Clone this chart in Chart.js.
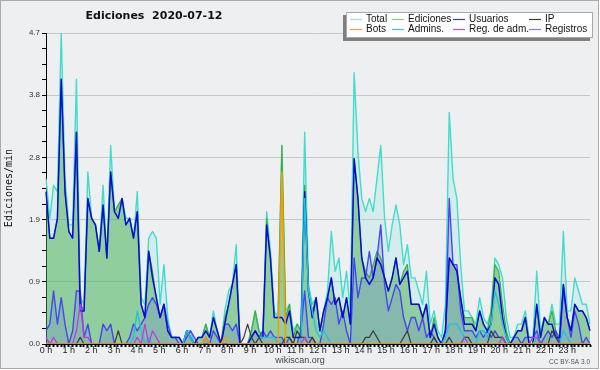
<!DOCTYPE html>
<html>
<head>
<meta charset="utf-8">
<title>Ediciones 2020-07-12</title>
<script src="https://cdn.jsdelivr.net/npm/chart.js"></script>
<style>
  html, body { margin: 0; padding: 0; background: #fff; }
  #wrap { width: 600px; height: 370px; }
</style>
</head>
<body>
<div id="wrap"><canvas id="chart" width="600" height="370"></canvas></div>
<script>
// Data (edits per minute, 10 minute slots, 2020-07-12)

const hourLabels = ["0 h", "1 h", "2 h", "3 h", "4 h", "5 h", "6 h", "7 h", "8 h", "9 h", "10 h", "11 h",
    "12 h", "13 h", "14 h", "15 h", "16 h", "17 h", "18 h", "19 h", "20 h", "21 h", "22 h", "23 h"];
const yTickLabels = ["0.0", "0.9", "1.9", "2.8", "3.8", "4.7"];

const total = [
    2.5, 1.9, 2.4, 2.3, 4.7, 2.5, 1.8, 1.8, 4.0, 0.7, 0.6, 2.6,
    1.9, 1.8, 1.4, 2.4, 1.3, 3.0, 2.0, 2.1, 2.2, 1.9, 1.9, 1.6,
    2.3, 0.7, 0.6, 1.6, 1.7, 1.6, 0.6, 1.2, 0.4, 0.1, 0.1, 0.1,
    0, 0.2, 0.2, 0, 0.1, 0.1, 0.3, 0.1, 0.5, 0.2, 0, 0.5,
    0.8, 0.9, 1.5, 0, 0, 0, 0.2, 0.5, 0.2, 0.1, 2.0, 1.4,
    0.5, 0.4, 3.0, 0.5, 0.6, 0.2, 0.3, 0.2, 3.2, 0.9, 0.6, 0.7,
    0.2, 0.5, 0.8, 1.7, 1.1, 1.3, 0.7, 1.1, 0.5, 4.1, 2.9, 2.2,
    2.0, 2.2, 2.0, 2.5, 3.0, 1.9, 1.4, 1.8, 2.1, 1.8, 1.2, 1.5,
    1.0, 1.0, 0.8, 0.6, 1.1, 0.3, 0.5, 0.2, 0.1, 0.6, 3.5, 2.5,
    2.2, 1.2, 0.5, 0.5, 0.4, 0.3, 0.7, 0.4, 0.3, 0.5, 1.3, 1.2,
    1.0, 0.4, 0.1, 0.1, 0.3, 0.3, 0.5, 0.1, 0.1, 1.1, 0.2, 0.4,
    0.3, 0.6, 0.3, 0.3, 1.7, 0.5, 0.5, 1.0, 0.8, 0.6, 0.6, 0.3
];
const ediciones = [
    2.3, 1.6, 1.6, 1.9, 4.0, 2.3, 1.7, 1.6, 3.2, 0.6, 0.5, 2.2,
    1.9, 1.8, 1.4, 2.1, 1.3, 2.6, 2.0, 2.1, 2.2, 1.8, 1.9, 1.6,
    2.0, 0.6, 0.4, 1.4, 1.1, 0.7, 0.4, 0.6, 0.2, 0.1, 0.1, 0.1,
    0, 0.2, 0.1, 0, 0.1, 0.1, 0.3, 0.1, 0.4, 0.2, 0, 0.4,
    0.6, 0.9, 1.2, 0, 0, 0, 0.2, 0.5, 0.2, 0.1, 1.9, 1.3,
    0.4, 0.4, 3.0, 0.4, 0.6, 0.1, 0.3, 0.2, 2.4, 0.8, 0.5, 0.7,
    0.2, 0.5, 0.7, 1.0, 0.6, 0.7, 0.4, 0.7, 0.3, 2.8, 2.2, 1.3,
    1.1, 1.0, 1.2, 1.4, 1.3, 1.0, 0.8, 1.0, 1.3, 0.9, 1.1, 1.2,
    0.6, 0.6, 0.6, 0.4, 0.6, 0.1, 0.4, 0.1, 0, 0.2, 1.3, 1.2,
    1.1, 0.7, 0.4, 0.4, 0.4, 0.2, 0.5, 0.3, 0.2, 0.5, 1.2, 1.1,
    0.6, 0.2, 0, 0.1, 0.2, 0.2, 0.4, 0, 0, 0.6, 0.1, 0.4,
    0.3, 0.5, 0.2, 0.1, 0.9, 0.4, 0.2, 0.6, 0.5, 0.5, 0.4, 0.2
];
const usuarios = [
    2.3, 1.6, 1.6, 1.9, 4.0, 2.3, 1.7, 1.6, 3.2, 0.5, 0.5, 2.2,
    1.9, 1.8, 1.4, 2.1, 1.3, 2.6, 2.0, 1.9, 2.2, 1.8, 1.9, 1.6,
    2.0, 0.6, 0.4, 1.4, 1.0, 0.7, 0.4, 0.6, 0.2, 0.1, 0.1, 0.1,
    0, 0.2, 0.1, 0, 0.1, 0.1, 0.2, 0.1, 0.4, 0.2, 0, 0.3,
    0.6, 0.9, 1.2, 0, 0, 0, 0.1, 0.2, 0.1, 0.1, 1.8, 1.3,
    0.4, 0.4, 0.4, 0.3, 0.5, 0.1, 0.1, 0.1, 2.3, 0.8, 0.4, 0.7,
    0.2, 0.5, 0.7, 1.0, 0.6, 0.7, 0.4, 0.7, 0.3, 2.8, 2.2, 1.3,
    1.0, 0.9, 1.0, 1.3, 1.2, 1.0, 0.8, 1.0, 1.3, 0.9, 1.0, 1.1,
    0.6, 0.6, 0.6, 0.4, 0.6, 0.1, 0.3, 0.1, 0, 0.2, 1.3, 1.2,
    1.1, 0.7, 0.3, 0.3, 0.3, 0.2, 0.5, 0.3, 0.2, 0.3, 1.0, 0.9,
    0.4, 0.1, 0, 0.1, 0.2, 0.2, 0.4, 0, 0, 0.6, 0.1, 0.4,
    0.3, 0.3, 0.1, 0.1, 0.9, 0.4, 0.2, 0.6, 0.5, 0.5, 0.4, 0.2
];
const ip = [
    0, 0, 0, 0, 0, 0, 0, 0, 0, 0.1, 0, 0,
    0, 0, 0, 0, 0, 0, 0, 0.2, 0, 0, 0, 0,
    0, 0, 0, 0, 0, 0, 0, 0, 0, 0, 0, 0,
    0, 0, 0, 0, 0, 0, 0, 0, 0, 0, 0, 0,
    0, 0, 0, 0, 0.1, 0.3, 0.1, 0, 0.1, 0, 0, 0,
    0, 0, 0, 0.1, 0.1, 0, 0.2, 0.1, 0.1, 0, 0.1, 0,
    0, 0, 0, 0, 0, 0, 0, 0, 0, 0, 0, 0,
    0.1, 0.1, 0.2, 0.1, 0, 0, 0, 0, 0, 0, 0.1, 0.2,
    0, 0, 0, 0, 0, 0, 0.1, 0, 0, 0, 0.1, 0,
    0, 0, 0.1, 0.1, 0, 0, 0, 0, 0, 0.2, 0.1, 0.1,
    0.1, 0, 0, 0, 0, 0, 0, 0, 0, 0, 0, 0,
    0, 0.2, 0.1, 0, 0, 0, 0, 0, 0, 0, 0, 0
];
const bots = [
    0, 0, 0, 0, 0, 0, 0, 0, 0, 0, 0, 0,
    0, 0, 0, 0, 0, 0, 0, 0, 0, 0, 0, 0,
    0, 0, 0, 0, 0, 0, 0, 0, 0, 0, 0, 0,
    0, 0, 0, 0, 0, 0, 0.1, 0, 0, 0, 0, 0.1,
    0, 0, 0, 0, 0, 0, 0, 0, 0, 0, 0, 0,
    0, 0, 2.6, 0, 0, 0, 0, 0, 0, 0, 0, 0,
    0, 0, 0, 0, 0, 0, 0, 0, 0, 0, 0, 0,
    0, 0, 0, 0, 0, 0, 0, 0, 0, 0, 0, 0,
    0, 0, 0, 0, 0, 0, 0, 0, 0, 0, 0, 0,
    0, 0, 0, 0, 0, 0, 0, 0, 0, 0, 0, 0,
    0, 0, 0, 0, 0, 0, 0, 0, 0, 0, 0, 0,
    0, 0, 0, 0, 0, 0, 0, 0, 0, 0, 0, 0
];
const admins = [
    0, 0, 0, 0, 0, 0, 0, 0, 0, 0, 0, 0,
    0, 0, 0, 0, 0, 0, 0, 0, 0, 0, 0, 0.1,
    0.5, 0.2, 0, 0.1, 0, 0, 0, 0, 0, 0, 0, 0,
    0, 0.2, 0.1, 0, 0, 0, 0, 0, 0, 0, 0, 0,
    0, 0, 0, 0, 0, 0, 0, 0, 0.1, 0.1, 0.1, 0.1,
    0.1, 0, 0, 0, 0, 0, 0, 0, 2.2, 0.8, 0.5, 0.2,
    0.1, 0.2, 0.1, 0, 0, 0, 0, 0, 0, 0, 0, 0,
    0, 0, 0, 0, 0, 0, 0, 0, 0, 0, 0, 0,
    0, 0, 0, 0, 0, 0, 0, 0, 0, 0.1, 0.3, 0.3,
    0.3, 0.2, 0.1, 0.1, 0, 0, 0.2, 0.2, 0.1, 0.3, 0.8, 0.6,
    0.3, 0.1, 0, 0, 0, 0, 0, 0, 0, 0.1, 0, 0,
    0, 0, 0, 0, 0.2, 0.1, 0, 0, 0, 0, 0, 0
];
const regAdm = [
    0.1, 0, 0.1, 0, 0, 0, 0, 0, 0.2, 0.6, 0.1, 0.1,
    0, 0, 0, 0, 0, 0, 0, 0, 0, 0, 0, 0,
    0.1, 0, 0.3, 0, 0.2, 0.1, 0, 0, 0, 0, 0, 0,
    0, 0, 0, 0, 0, 0, 0, 0, 0, 0, 0, 0,
    0, 0, 0, 0, 0, 0, 0, 0, 0, 0, 0, 0,
    0, 0, 0, 0, 0, 0, 0, 0, 0.1, 0, 0, 0,
    0, 0, 0, 0, 0, 0, 0, 0, 0, 0, 0, 0,
    0, 0, 0, 0, 0, 0, 0, 0, 0, 0, 0, 0,
    0, 0, 0, 0, 0, 0, 0, 0, 0, 0, 0, 0,
    0, 0, 0.1, 0, 0, 0, 0, 0, 0, 0, 0, 0,
    0.1, 0, 0, 0, 0, 0, 0, 0, 0.1, 0.1, 0, 0,
    0, 0, 0, 0, 0, 0, 0, 0, 0, 0, 0, 0
];
const registros = [
    0.2, 0.3, 0.8, 0.3, 0.7, 0.3, 0, 0.2, 0.8, 0.8, 0.1, 0.3,
    0, 0, 0, 0.3, 0.2, 0.3, 0, 0, 0, 0, 0.1, 0.3,
    0.2, 0.3, 0.4, 0.6, 0.7, 0.6, 0.4, 0.6, 0.3, 0.1, 0.1, 0,
    0, 0.1, 0.2, 0.1, 0, 0, 0.1, 0, 0.2, 0.1, 0, 0.3,
    0.3, 0.2, 0.3, 0, 0, 0, 0.1, 0.2, 0.1, 0.2, 0.1, 0.2,
    0.1, 0.1, 0.1, 0, 0.1, 0, 0, 0.2, 0.8, 0.1, 0.1, 0,
    0, 0.3, 0.7, 0.6, 0.7, 0.3, 0.5, 0.2, 0, 1.3, 0.7, 1.0,
    1.0, 1.4, 1.0, 1.3, 1.8, 0.9, 0.5, 0.7, 0.9, 0.8, 0.4, 0.2,
    0.4, 0.4, 0.2, 0.4, 0.1, 0.2, 0.1, 0, 0, 0.2, 2.2, 1.2,
    1.2, 0.5, 0.2, 0.2, 0.2, 0.1, 0.2, 0.1, 0.2, 0.1, 0.2, 0.1,
    0.1, 0, 0, 0.1, 0.1, 0, 0.1, 0.1, 0.1, 0.2, 0, 0.1,
    0.2, 0.1, 0.2, 0, 0.8, 0.4, 0.1, 0.5, 0.3, 0, 0.1, 0
];

// 10 minute slots as categories
const slots = [];
for (let i = 0; i < total.length; i++) {
    const h = Math.floor(i / 6), m = (i % 6) * 10;
    slots.push(h + ":" + (m < 10 ? "0" : "") + m);
}

const legendItems = [
    ["Total", "#9fe4dc"], ["Ediciones", "#86cf86"], ["Usuarios", "#3a3ad8"], ["IP", "#3c3c3c"],
    ["Bots", "#f4a040"], ["Admins.", "#3cc6e0"], ["Reg. de adm.", "#c048e0"], ["Registros", "#7c7cf0"]
];

function series(label, data, color, width, fill, order) {
    return {
        label: label,
        data: data,
        xAxisID: "x",
        borderColor: color,
        borderWidth: width,
        backgroundColor: fill || "rgba(0,0,0,0)",
        fill: fill ? "origin" : false,
        tension: 0,
        pointRadius: 0,
        borderJoinStyle: "round",
        order: order
    };
}

// Background, title, legend and footer texts

const decor = {
    id: "decor",
    beforeDraw(chart) {
        const c = chart.ctx;
        c.save();
        c.fillStyle = "#ffffff";
        c.fillRect(0, 0, 600, 370);
        c.fillStyle = "#eeeff0";
        c.fillRect(0, 0, 599, 369);
        c.strokeStyle = "#a9a9a9";
        c.lineWidth = 1;
        c.strokeRect(0.5, 0.5, 598, 368);
        c.restore();
    },
    afterDraw(chart) {
        const c = chart.ctx;
        c.save();
        c.fillStyle = "#111";
        c.textAlign = "center";
        c.textBaseline = "middle";
        c.font = "bold 11px 'DejaVu Sans', sans-serif";
        c.fillText("Ediciones  2020-07-12", 154, 16.5);

        c.save();
        c.translate(9, 188);
        c.rotate(-Math.PI / 2);
        c.font = "10px 'DejaVu Sans Mono', monospace";
        c.fillText("Ediciones/min", 0, 0);
        c.restore();

        c.font = "9px 'Liberation Sans', Arial, sans-serif";
        c.fillStyle = "#444";
        c.fillText("wikiscan.org", 300, 361);
        c.textAlign = "right";
        c.font = "6.5px 'Liberation Sans', Arial, sans-serif";
        c.fillStyle = "#555";
        c.fillText("CC BY-SA 3.0", 590, 362.5);

        // legend box
        c.fillStyle = "#7f7f7f";
        c.fillRect(343, 15, 247, 26);
        c.fillStyle = "#ffffff";
        c.fillRect(346, 12, 247, 26);
        c.strokeStyle = "#a8a8a8";
        c.strokeRect(346.5, 12.5, 246, 25);

        const colX = [366, 408, 469, 545];
        const rowY = [19, 29];
        c.font = "10px 'Liberation Sans', Arial, sans-serif";
        c.textAlign = "left";
        legendItems.forEach((item, k) => {
            const x = colX[k % 4], y = rowY[Math.floor(k / 4)];
            c.strokeStyle = item[1];
            c.lineWidth = 1.2;
            c.beginPath();
            c.moveTo(x - 16, y + 0.5);
            c.lineTo(x - 4, y + 0.5);
            c.stroke();
            c.fillStyle = "#111";
            c.fillText(item[0], x, y);
        });
        c.restore();
    }
};

// Graph Chart

const chart = document.querySelector("#chart").getContext("2d");

new Chart(chart, {
    type: "line",
    data: {
        labels: slots,
        datasets: [
            series("Bots", bots, "#ff9900", 1.5, null, 1),
            series("Reg. de adm.", regAdm, "#b83ce0", 1.2, null, 2),
            series("IP", ip, "#3c3c3c", 1.2, null, 3),
            series("Admins.", admins, "#22c2de", 1.4, null, 4),
            series("Usuarios", usuarios, "#0a0ad8", 1.5, null, 5),
            series("Registros", registros, "#4646f2", 1.4, "rgba(90,90,240,0.18)", 6),
            series("Ediciones", ediciones, "#3cb03c", 1.2, "rgba(50,165,50,0.42)", 7),
            series("Total", total, "#40dccc", 1.4, "rgba(64,220,205,0.15)", 8)
        ]
    },
    options: {
        responsive: false,
        animation: false,
        devicePixelRatio: 1,
        layout: { padding: { left: 0, top: 33, right: 10, bottom: 0 } },
        plugins: {
            legend: { display: false },
            title: { display: false },
            tooltip: { enabled: false }
        },
        scales: {
            x: { type: "category", display: false, offset: false },
            y: {
                min: 0,
                max: 4.7,
                afterFit: (s) => { s.width = 46; },
                afterBuildTicks: (s) => {
                    const t = [];
                    for (let k = 0; k <= 20; k++) t.push({ value: k * 0.235 });
                    s.ticks = t;
                },
                ticks: {
                    autoSkip: false,
                    padding: 2,
                    color: "#333",
                    font: { family: "'Liberation Sans', Arial, sans-serif", size: 8 },
                    callback: (v, i) => (i % 4 === 0 ? yTickLabels[i / 4] : "")
                },
                grid: {
                    color: (c) => (c.index % 4 === 0 && c.index > 0 ? "#c8c8c8" : "rgba(0,0,0,0)"),
                    tickColor: "#000",
                    tickLength: 4,
                    lineWidth: 1
                },
                border: { color: "#000", width: 1 }
            },
            xt: {
                type: "linear",
                position: "bottom",
                min: 0,
                max: 24,
                afterFit: (s) => { s.height = 26; },
                afterBuildTicks: (s) => {
                    const t = [];
                    for (let k = 0; k <= 144; k++) t.push({ value: k / 6 });
                    s.ticks = t;
                },
                ticks: {
                    autoSkip: false,
                    maxRotation: 0,
                    padding: -2,
                    color: "#222",
                    font: { family: "'Liberation Sans', Arial, sans-serif", size: 9 },
                    callback: (v, i) => (i % 6 === 0 && i < 144 ? hourLabels[i / 6] : "")
                },
                grid: {
                    drawOnChartArea: false,
                    tickLength: 3,
                    tickColor: "#000",
                    tickWidth: 2
                },
                border: { color: "#000", width: 1 }
            }
        }
    },
    plugins: [decor]
});
</script>
</body>
</html>
